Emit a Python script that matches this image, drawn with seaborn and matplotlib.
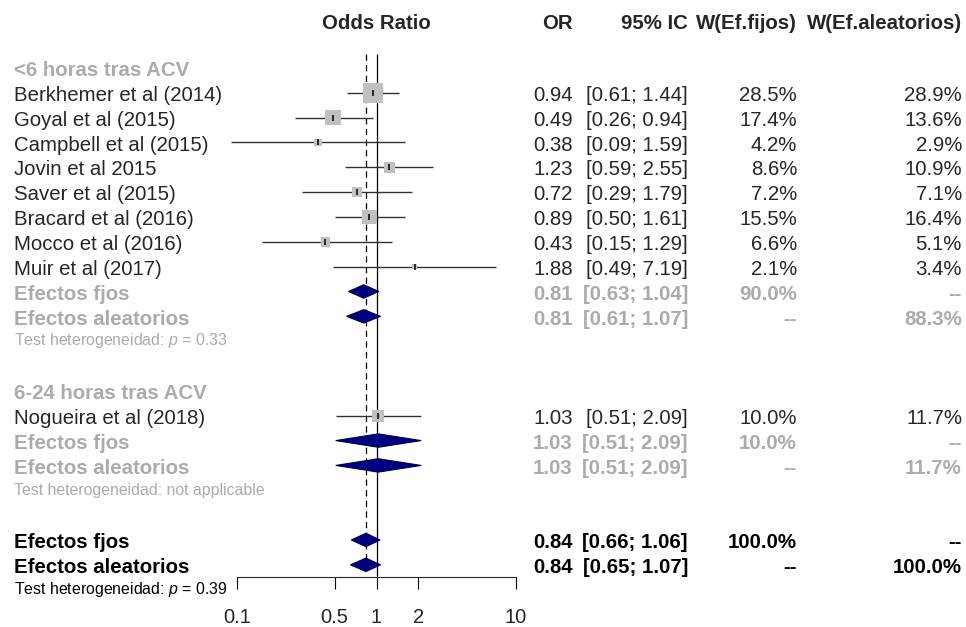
import numpy as np
import pandas as pd
import seaborn as sns
import matplotlib.pyplot as plt
import matplotlib.transforms as mtransforms
from matplotlib.ticker import NullLocator

# study level data
study = ['Berkhemer et al (2014)', 'Goyal et al (2015)', 'Campbell et al (2015)',
         'Jovin et al 2015', 'Saver et al (2015)', 'Bracard et al (2016)',
         'Mocco et al (2016)', 'Muir et al (2017)', 'Nogueira et al (2018)']
study_row = [1, 2, 3, 4, 5, 6, 7, 8, 14]
est = [0.94, 0.49, 0.38, 1.23, 0.72, 0.89, 0.43, 1.88, 1.03]
lo = [0.61, 0.26, 0.09, 0.59, 0.29, 0.50, 0.15, 0.49, 0.51]
hi = [1.44, 0.94, 1.59, 2.55, 1.79, 1.61, 1.29, 7.19, 2.09]
w_fixed = [28.5, 17.4, 4.2, 8.6, 7.2, 15.5, 6.6, 2.1, 10.0]
w_random = [28.9, 13.6, 2.9, 10.9, 7.1, 16.4, 5.1, 3.4, 11.7]

# subgroups
group_name = ['<6 horas tras ACV', '6-24 horas tras ACV']
group_row = [0, 13]

# pooled estimates (subgroups and overall)
pool_label = ['Efectos fjos', 'Efectos aleatorios', 'Efectos fjos', 'Efectos aleatorios',
              'Efectos fjos', 'Efectos aleatorios']
pool_row = [9, 10, 15, 16, 19, 20]
pool_est = [0.81, 0.81, 1.03, 1.03, 0.84, 0.84]
pool_lo = [0.63, 0.61, 0.51, 0.51, 0.66, 0.65]
pool_hi = [1.04, 1.07, 2.09, 2.09, 1.06, 1.07]
pool_wf = ['90.0%', '--', '10.0%', '--', '100.0%', '--']
pool_wr = ['--', '88.3%', '--', '11.7%', '--', '100.0%']
pool_overall = [False, False, False, False, True, True]

het_text = ['Test heterogeneidad: $p$ = 0.33', 'Test heterogeneidad: not applicable',
            'Test heterogeneidad: $p$ = 0.39']
het_row = [11, 17, 21]
het_overall = [False, False, True]

ticks = [0.1, 0.5, 1, 2, 10]
tick_labels = ['0.1', '0.5', '1', '2', '10']

sns.set_style('white')
plt.rcParams['font.family'] = ['Liberation Sans', 'DejaVu Sans']
plt.rcParams['mathtext.fontset'] = 'custom'
plt.rcParams['mathtext.it'] = 'Liberation Sans:italic'
plt.rcParams['mathtext.rm'] = 'Liberation Sans'

GRAY = '#ABABAB'
NAVY = '#000080'
FS = 14.7
W, H = 966, 627
DY = 0.11  # text sits a little below the row centre

fig = plt.figure(figsize=(W / 100, H / 100), dpi=100)
ax = fig.add_axes([237 / W, 50 / H, 279 / W, 577 / H])
ax.set_xscale('log')
ax.set_xlim(0.1, 10)
ax.set_ylim(20.49, -2.73)

# reference lines
ax.vlines(1, -0.55, 20.49, color='black', lw=0.9, zorder=1)
ax.vlines(pool_est[4], -0.55, 20, color='black', lw=0.9, linestyles=(0, (5, 3.5)), zorder=1)

# confidence intervals
ax.hlines(study_row, lo, hi, color='#333333', lw=1.0, zorder=2, clip_on=False)

df = pd.DataFrame({'est': est, 'row': study_row, 'w': w_fixed})
sns.scatterplot(data=df, x='est', y='row', size='w', sizes=(0, 208), size_norm=(0, 28.5),
                marker='s', color='#C0C0C0', linewidth=0, legend=False, ax=ax, zorder=3)
ax.scatter(est, study_row, marker='|', s=20, color='black', linewidths=1.1, zorder=4)

# diamonds
h = 0.27
for r, e, l, u in zip(pool_row, pool_est, pool_lo, pool_hi):
    ax.fill([l, e, u, e], [r, r - h, r, r + h], facecolor=NAVY, edgecolor='#00004d',
            lw=0.8, zorder=5)

sns.despine(ax=ax, left=True)
ax.set_yticks([])
ax.set_xlabel('')
ax.set_ylabel('')
ax.set_xticks(ticks)
ax.set_xticklabels(tick_labels)
ax.xaxis.set_minor_locator(NullLocator())
ax.spines['bottom'].set_linewidth(0.8)
ax.tick_params(axis='x', length=8.6, width=0.8, labelsize=14.5, pad=14, direction='out',
               bottom=True, color='black')

tr = mtransforms.blended_transform_factory(fig.transFigure, ax.transData)


def put(xpx, row, s, ha='left', **kw):
    ax.text(xpx / W, row + DY, s, transform=tr, ha=ha, va='center', clip_on=False, **kw)


# header
hr = -1.9
put(376, hr, 'Odds Ratio', ha='center', fontsize=FS, fontweight='bold')
put(573, hr, 'OR', ha='right', fontsize=FS, fontweight='bold')
put(688, hr, '95% IC', ha='right', fontsize=FS, fontweight='bold')
put(797, hr, 'W(Ef.fijos)', ha='right', fontsize=FS, fontweight='bold')
put(962, hr, 'W(Ef.aleatorios)', ha='right', fontsize=FS, fontweight='bold')

for name, r in zip(group_name, group_row):
    put(14, r, name, fontsize=FS, fontweight='bold', color=GRAY)

for s, r, e, l, u, wf, wr in zip(study, study_row, est, lo, hi, w_fixed, w_random):
    put(14, r, s, fontsize=FS)
    put(573, r, f'{e:.2f}', ha='right', fontsize=FS)
    put(688, r, f'[{l:.2f}; {u:.2f}]', ha='right', fontsize=FS)
    put(797, r, f'{wf:.1f}%', ha='right', fontsize=FS)
    put(962, r, f'{wr:.1f}%', ha='right', fontsize=FS)

for s, r, e, l, u, wf, wr, ov in zip(pool_label, pool_row, pool_est, pool_lo, pool_hi,
                                      pool_wf, pool_wr, pool_overall):
    c = 'black' if ov else GRAY
    put(14, r, s, fontsize=FS, fontweight='bold', color=c)
    put(573, r, f'{e:.2f}', ha='right', fontsize=FS, fontweight='bold', color=c)
    put(688, r, f'[{l:.2f}; {u:.2f}]', ha='right', fontsize=FS, fontweight='bold', color=c)
    put(797, r, wf, ha='right', fontsize=FS, fontweight='bold', color=c)
    put(962, r, wr, ha='right', fontsize=FS, fontweight='bold', color=c)

for s, r, ov in zip(het_text, het_row, het_overall):
    put(14, r - 0.12, s, fontsize=11.4, color='black' if ov else GRAY)

fig.savefig('out.png', dpi=100)
